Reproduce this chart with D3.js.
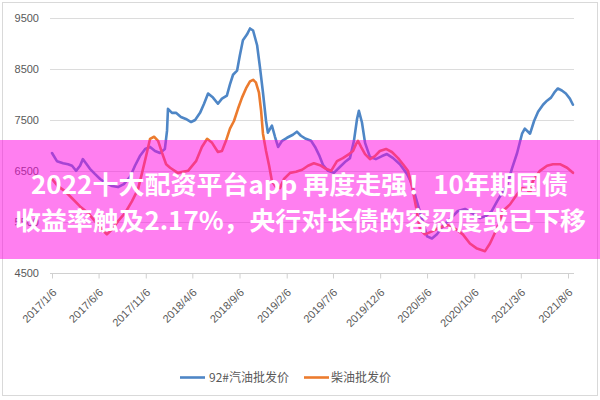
<!DOCTYPE html>
<html><head><meta charset="utf-8">
<script src="https://cdn.jsdelivr.net/npm/d3@7"></script>
<style>
html,body{margin:0;padding:0;background:#fff;}
svg{display:block;}
</style></head>
<body>
<svg id="chart" width="600" height="400"></svg>
<script>
const seriesNames = ["92#汽油批发价", "柴油批发价"];
const seriesColors = ["#4e86c6", "#ec7b2e"];
const yTickValues = [4500, 5500, 6500, 7500, 8500, 9500];
const xTickLabels = ["2017/1/6","2017/6/6","2017/11/6","2018/4/6","2018/9/6","2019/2/6","2019/7/6","2019/12/6","2020/5/6","2020/10/6","2021/3/6","2021/8/6"];
const bannerLines = ["2022十大配资平台app 再度走强！10年期国债", "收益率触及2.17%，央行对长债的容忍度或已下移"];

const gasDates = ["2017-01-06","2017-01-22","2017-02-11","2017-02-27","2017-03-12","2017-03-25","2017-04-07","2017-04-16","2017-04-26","2017-05-09","2017-05-25","2017-06-11","2017-06-30","2017-07-20","2017-08-08","2017-08-27","2017-09-16","2017-10-02","2017-10-18","2017-11-04","2017-11-20","2017-12-06","2017-12-22","2018-01-07","2018-01-14","2018-01-17","2018-01-30","2018-02-12","2018-02-28","2018-03-16","2018-04-02","2018-04-15","2018-05-01","2018-05-14","2018-05-27","2018-06-12","2018-06-28","2018-07-11","2018-07-27","2018-08-06","2018-08-16","2018-08-29","2018-09-07","2018-09-17","2018-09-30","2018-10-10","2018-10-20","2018-11-02","2018-11-11","2018-11-21","2018-12-01","2018-12-07","2018-12-20","2018-12-30","2019-01-09","2019-01-22","2019-02-07","2019-02-26","2019-03-11","2019-03-24","2019-04-09","2019-04-26","2019-05-09","2019-05-22","2019-06-04","2019-06-20","2019-07-09","2019-07-29","2019-08-17","2019-08-30","2019-09-12","2019-09-22","2019-09-28","2019-10-08","2019-10-18","2019-11-03","2019-11-22","2019-12-12","2019-12-28","2020-01-17","2020-02-08","2020-03-02","2020-03-18","2020-04-03","2020-04-20","2020-05-06","2020-05-22","2020-06-07","2020-06-23","2020-07-19","2020-08-14","2020-09-06","2020-09-29","2020-10-25","2020-11-13","2020-12-02","2020-12-19","2021-01-04","2021-01-20","2021-02-05","2021-02-22","2021-03-10","2021-03-19","2021-04-05","2021-04-18","2021-05-01","2021-05-17","2021-05-30","2021-06-12","2021-06-25","2021-07-04","2021-07-17","2021-07-30","2021-08-12","2021-08-22"];
const gasValues = [6850,6690,6650,6630,6600,6500,6600,6730,6650,6540,6440,6340,6260,6200,6180,6240,6380,6600,6790,6930,6970,6890,6850,6930,7290,7720,7640,7640,7560,7520,7460,7500,7640,7820,8020,7940,7820,7920,7980,8200,8390,8470,8770,9070,9180,9300,9260,8970,8550,8040,7480,7250,7390,7170,6970,7090,7150,7210,7270,7190,7130,7090,6970,6810,6610,6500,6460,6580,6690,6750,7090,7520,7680,7450,7050,6770,6730,6790,6830,6750,6630,6440,6240,5900,5550,5210,5170,5250,5390,5550,5710,5750,5670,5570,5610,5710,5900,6060,6200,6540,6850,7230,7330,7230,7480,7660,7800,7880,7940,8060,8120,8080,8020,7920,7800];

const dieselDates = ["2017-01-06","2017-01-25","2017-02-17","2017-03-12","2017-04-07","2017-05-03","2017-05-25","2017-06-17","2017-07-03","2017-07-20","2017-08-08","2017-08-31","2017-09-22","2017-10-12","2017-10-25","2017-11-07","2017-11-20","2017-12-03","2017-12-16","2017-12-29","2018-01-11","2018-01-24","2018-02-18","2018-03-23","2018-04-18","2018-05-07","2018-05-24","2018-06-09","2018-06-28","2018-07-11","2018-07-24","2018-08-06","2018-08-19","2018-09-01","2018-09-14","2018-09-27","2018-10-10","2018-10-20","2018-10-29","2018-11-08","2018-11-15","2018-11-21","2018-12-01","2018-12-11","2018-12-20","2019-01-02","2019-01-15","2019-01-28","2019-02-17","2019-03-08","2019-03-28","2019-04-16","2019-05-05","2019-05-25","2019-06-13","2019-06-30","2019-07-19","2019-08-07","2019-08-27","2019-09-09","2019-09-19","2019-09-25","2019-10-05","2019-10-18","2019-11-03","2019-11-19","2019-12-05","2019-12-25","2020-01-13","2020-02-02","2020-02-18","2020-03-05","2020-03-18","2020-03-31","2020-04-13","2020-04-29","2020-05-22","2020-06-17","2020-07-13","2020-08-08","2020-08-30","2020-09-22","2020-10-15","2020-11-10","2020-11-26","2020-12-19","2021-01-07","2021-01-30","2021-02-22","2021-03-10","2021-03-26","2021-04-05","2021-04-14","2021-05-07","2021-05-30","2021-06-18","2021-07-11","2021-08-03","2021-08-22"];
const dieselValues = [6340,6200,6100,5960,5800,5670,5510,5350,5250,5350,5510,5670,5900,6140,6460,6790,7130,7170,7090,6850,6630,6560,6460,6500,6690,6970,7130,7050,6870,6890,7090,7330,7480,7720,7940,8120,8260,8290,8240,8040,7680,7230,6890,6600,6300,6180,6160,6340,6460,6480,6520,6600,6650,6610,6540,6500,6690,6750,6830,6890,7030,7090,6970,6830,6730,6790,6890,6930,6870,6750,6630,6500,6200,5800,5350,5250,5310,5390,5430,5350,5250,5070,4970,4920,5070,5370,5710,5840,6040,6160,6140,6060,6300,6500,6600,6630,6630,6560,6460];

const parse = d3.timeParse("%Y-%m-%d");
const parseTick = d3.timeParse("%Y/%m/%d");

const svg = d3.select("#chart");
const font = "'Noto Sans CJK SC','Noto Sans',sans-serif";

// border
svg.append("rect").attr("x",2.5).attr("y",2.5).attr("width",595).attr("height",393)
  .attr("fill","#fff").attr("stroke","#d9d9d9").attr("stroke-width",1);

const x = d3.scaleTime()
  .domain([parseTick("2017/1/6"), parseTick("2021/8/6")])
  .range([52, 568]);
const y = d3.scaleLinear().domain([4500, 9500]).range([272.5, 18.3]);

const plotLeft = 50, plotRight = 574;

// gridlines
svg.append("g").selectAll("line").data(yTickValues.filter(v => v !== 4500)).join("line")
  .attr("x1", plotLeft).attr("x2", plotRight)
  .attr("y1", d => Math.round(y(d)) + 0.5).attr("y2", d => Math.round(y(d)) + 0.5)
  .attr("stroke", "#dcdcdc").attr("stroke-width", 1);

// y labels
const yAxis = d3.axisLeft(y).tickValues(yTickValues).tickSize(0).tickPadding(0).tickFormat(d3.format("d"));
const gy = svg.append("g").attr("transform", "translate(39,0)").call(yAxis);
gy.select(".domain").remove();
gy.selectAll("text").attr("fill", "#595959").style("font-family", "'Liberation Sans',Arial,sans-serif").style("font-size", "11px");

// x axis
const xAxis = d3.axisBottom(x).tickValues(xTickLabels.map(parseTick)).tickSize(5).tickFormat((d, i) => xTickLabels[i]);
const gx = svg.append("g").attr("transform", `translate(0,${Math.round(y(4500)) + 0.5})`).call(xAxis);
gx.select(".domain").attr("d", `M${plotLeft},0H${plotRight}`).attr("stroke", "#d0d0d0");
gx.selectAll(".tick line").attr("stroke", "#d0d0d0");
gx.selectAll(".tick text")
  .attr("fill", "#595959")
  .style("font-family", "'Liberation Sans',Arial,sans-serif").style("font-size", "11px")
  .attr("text-anchor", "end")
  .attr("x", 0).attr("y", 0).attr("dy", "0.35em")
  .attr("transform", "translate(2,17) rotate(-45)");

// lines
const line = d3.line().x(d => x(d[0])).y(d => y(d[1])).curve(d3.curveLinear);
const gasData = gasDates.map((d, i) => [parse(d), gasValues[i]]);
const dieselData = dieselDates.map((d, i) => [parse(d), dieselValues[i]]);
[gasData, dieselData].forEach((data, i) => {
  svg.append("path").datum(data).attr("d", line)
    .attr("fill", "none").attr("stroke", seriesColors[i])
    .attr("stroke-width", 2.6).attr("stroke-linejoin", "round").attr("stroke-linecap", "round");
});

// legend
const legend = svg.append("g").style("font-family", font).style("font-size", "12px");
const legendItems = [{x: 180, tx: 209}, {x: 304, tx: 331}];
seriesNames.forEach((name, i) => {
  legend.append("line").attr("x1", legendItems[i].x).attr("x2", legendItems[i].x + 25)
    .attr("y1", 377.5).attr("y2", 377.5).attr("stroke", seriesColors[i]).attr("stroke-width", 2.6);
  legend.append("text").attr("x", legendItems[i].tx).attr("y", 382).attr("fill", "#595959").text(name);
});

// banner overlay
svg.append("rect").attr("x", 0).attr("y", 140).attr("width", 600).attr("height", 119)
  .attr("fill", "rgb(255,0,225)").attr("fill-opacity", 0.5);
const bannerSpecs = [{cx: 299.5, y: 194, w: 537}, {cx: 300.5, y: 230, w: 571}];
bannerLines.forEach((t, i) => {
  svg.append("text").attr("x", bannerSpecs[i].cx).attr("y", bannerSpecs[i].y)
    .attr("text-anchor", "middle")
    .attr("textLength", bannerSpecs[i].w).attr("lengthAdjust", "spacingAndGlyphs")
    .style("font-family", font).style("font-weight", "bold").style("font-size", "25px")
    .attr("fill", "#fff").text(t);
});
</script>
</body></html>
